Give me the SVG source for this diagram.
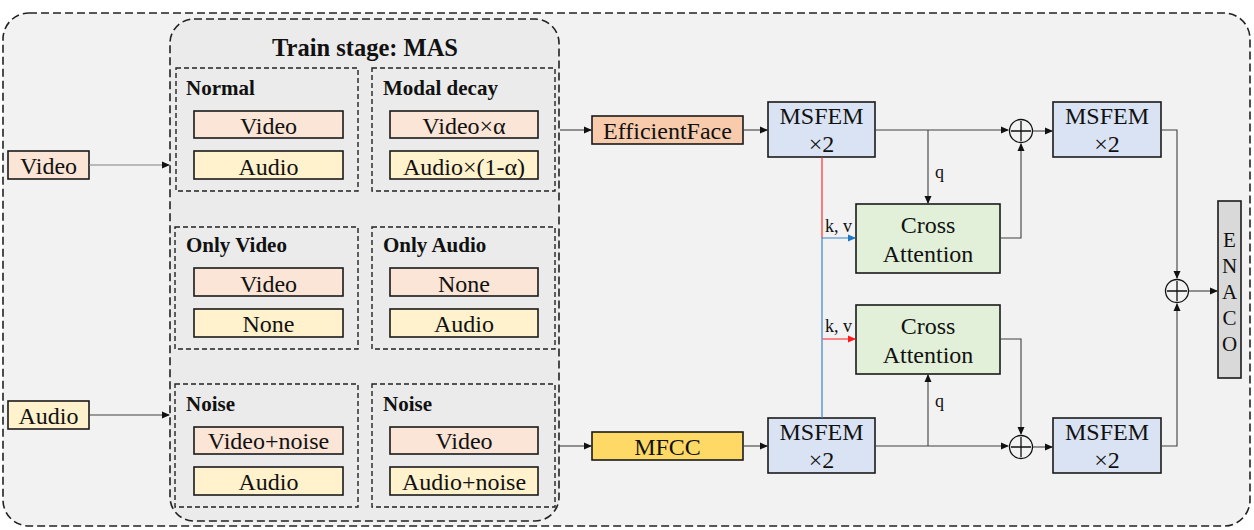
<svg xmlns="http://www.w3.org/2000/svg" width="1254" height="530" viewBox="0 0 1254 530">
<defs>
<marker id="ah" markerWidth="8" markerHeight="8" refX="7" refY="4" orient="auto" markerUnits="userSpaceOnUse"><path d="M0,0.5 L8,4 L0,7.5 Z" fill="#111"/></marker>
<marker id="ahb" markerWidth="8" markerHeight="8" refX="7" refY="4" orient="auto" markerUnits="userSpaceOnUse"><path d="M0,0.5 L8,4 L0,7.5 Z" fill="#1f77c8"/></marker>
<marker id="ahr" markerWidth="8" markerHeight="8" refX="7" refY="4" orient="auto" markerUnits="userSpaceOnUse"><path d="M0,0.5 L8,4 L0,7.5 Z" fill="#ff1a1a"/></marker>
</defs>
<style>
.t{font-family:"Liberation Serif","Times New Roman",serif;fill:#111}
.lbl{font-size:24px;text-anchor:middle}
.ttl{font-size:21px;font-weight:bold}
.sm{font-size:18px}
.box{stroke:#1a1a1a;stroke-width:1.6}
.vid{fill:#fbe5d6}
.aud{fill:#fff2cc}
.ms{fill:#dae3f3}
.ca{fill:#e2f0d9}
.sub{fill:none;stroke:#222;stroke-width:1.4;stroke-dasharray:5 3}
.ln{fill:none;stroke:#404040;stroke-width:1.1}
.plus{fill:none;stroke:#111;stroke-width:1.3}
</style>
<rect x="3" y="13" width="1247" height="513" rx="26" fill="#f2f2f2" stroke="#222" stroke-width="1.6" stroke-dasharray="8 4"/>
<g id="train-stage">
<rect x="170" y="19" width="389" height="502" rx="24" fill="#ebebeb" stroke="#222" stroke-width="1.6" stroke-dasharray="8 4"/>
<text class="t" x="365" y="56" font-size="24.5" font-weight="bold" text-anchor="middle">Train stage: MAS</text>
</g>
<g id="normal">
<rect class="sub" x="176" y="68" width="182" height="123"/>
<text class="t ttl" x="186" y="95">Normal</text>
<rect class="box vid" x="194" y="111" width="149" height="27"/><text class="t lbl" x="268.5" y="134">Video</text>
<rect class="box aud" x="194" y="151" width="149" height="28"/><text class="t lbl" x="268.5" y="175">Audio</text>
</g>
<g id="modal-decay">
<rect class="sub" x="372" y="68" width="183" height="123"/>
<text class="t ttl" x="383" y="95">Modal decay</text>
<rect class="box vid" x="390" y="111" width="148" height="27"/><text class="t lbl" x="464" y="134">Video×α</text>
<rect class="box aud" x="390" y="151" width="148" height="28"/><text class="t lbl" x="464" y="175">Audio×(1-α)</text>
</g>
<g id="only-video">
<rect class="sub" x="175" y="227" width="183" height="122"/>
<text class="t ttl" x="186" y="252">Only Video</text>
<rect class="box vid" x="194" y="268" width="149" height="28"/><text class="t lbl" x="268.5" y="292">Video</text>
<rect class="box aud" x="194" y="309" width="149" height="28"/><text class="t lbl" x="268.5" y="332">None</text>
</g>
<g id="only-audio">
<rect class="sub" x="372" y="227" width="183" height="122"/>
<text class="t ttl" x="383" y="252">Only Audio</text>
<rect class="box vid" x="390" y="268" width="148" height="28"/><text class="t lbl" x="464" y="292">None</text>
<rect class="box aud" x="390" y="309" width="148" height="28"/><text class="t lbl" x="464" y="332">Audio</text>
</g>
<g id="noise-1">
<rect class="sub" x="175" y="384" width="183" height="123"/>
<text class="t ttl" x="186" y="411">Noise</text>
<rect class="box vid" x="194" y="427" width="149" height="27"/><text class="t lbl" x="268.5" y="449">Video+noise</text>
<rect class="box aud" x="194" y="467" width="149" height="28"/><text class="t lbl" x="268.5" y="490">Audio</text>
</g>
<g id="noise-2">
<rect class="sub" x="372" y="384" width="183" height="123"/>
<text class="t ttl" x="383" y="411">Noise</text>
<rect class="box vid" x="390" y="427" width="148" height="27"/><text class="t lbl" x="464" y="449">Video</text>
<rect class="box aud" x="390" y="467" width="148" height="28"/><text class="t lbl" x="464" y="490">Audio+noise</text>
</g>
<g id="video-input"><rect class="box vid" x="8" y="151" width="81" height="28"/><text class="t lbl" x="48.5" y="174">Video</text></g>
<g id="audio-input"><rect class="box aud" x="8" y="401" width="81" height="28"/><text class="t lbl" x="48.5" y="424">Audio</text></g>
<g id="efficientface"><rect class="box" fill="#f8cbad" x="592" y="116" width="151" height="28"/><text class="t lbl" x="667.5" y="139">EfficientFace</text></g>
<g id="mfcc"><rect class="box" fill="#ffd966" x="592" y="432" width="151" height="28"/><text class="t lbl" x="667.5" y="455">MFCC</text></g>
<g id="msfem-v1"><rect class="box ms" x="768" y="102" width="107" height="55"/><text class="t lbl" x="821.5" y="124">MSFEM</text><text class="t lbl" x="821.5" y="152">×2</text></g>
<g id="msfem-a1"><rect class="box ms" x="768" y="418" width="107" height="55"/><text class="t lbl" x="821.5" y="440">MSFEM</text><text class="t lbl" x="821.5" y="468">×2</text></g>
<g id="ca-top"><rect class="box ca" x="856" y="204" width="144" height="69"/><text class="t lbl" x="928" y="233">Cross</text><text class="t lbl" x="928" y="262">Attention</text></g>
<g id="ca-bottom"><rect class="box ca" x="856" y="305" width="144" height="69"/><text class="t lbl" x="928" y="334">Cross</text><text class="t lbl" x="928" y="363">Attention</text></g>
<g id="msfem-v2"><rect class="box ms" x="1053" y="102" width="108" height="55"/><text class="t lbl" x="1107" y="124">MSFEM</text><text class="t lbl" x="1107" y="152">×2</text></g>
<g id="msfem-a2"><rect class="box ms" x="1053" y="418" width="108" height="55"/><text class="t lbl" x="1107" y="440">MSFEM</text><text class="t lbl" x="1107" y="468">×2</text></g>
<g id="enaco"><rect class="box" fill="#d9d9d9" x="1218" y="201" width="23" height="177"/>
<text class="t" font-size="21" text-anchor="middle"><tspan x="1229.5" y="247">E</tspan><tspan x="1229.5" y="273">N</tspan><tspan x="1229.5" y="299">A</tspan><tspan x="1229.5" y="325">C</tspan><tspan x="1229.5" y="351">O</tspan></text></g>
<g id="add-top"><circle class="plus" cx="1021" cy="131" r="11.5"/><path class="plus" d="M1021,121 V141 M1011,131 H1031"/></g>
<g id="add-bottom"><circle class="plus" cx="1021" cy="447" r="11.5"/><path class="plus" d="M1021,437 V457 M1011,447 H1031"/></g>
<g id="add-final"><circle class="plus" cx="1177" cy="291" r="11.5"/><path class="plus" d="M1177,281 V301 M1167,291 H1187"/></g>
<g id="connectors">
<path d="M89,165 H169" fill="none" stroke="#808080" stroke-width="1.1" marker-end="url(#ah)"/>
<path d="M89,415 H169" fill="none" stroke="#404040" stroke-width="1.1" marker-end="url(#ah)"/>
<path class="ln" d="M560,130 H591" marker-end="url(#ah)"/>
<path class="ln" d="M560,446 H591" stroke="#808080" marker-end="url(#ah)"/>
<path class="ln" d="M743,130 H767" marker-end="url(#ah)"/>
<path class="ln" d="M743,446 H767" stroke="#808080" marker-end="url(#ah)"/>
<path class="ln" d="M875,130 H1008" marker-end="url(#ah)"/>
<path class="ln" d="M875,446 H1008" stroke="#808080" marker-end="url(#ah)"/>
<path class="ln" d="M928,130 V203" marker-end="url(#ah)"/>
<path class="ln" d="M928,446 V375" stroke="#808080" marker-end="url(#ah)"/>
<text class="t sm" x="935" y="178">q</text>
<text class="t sm" x="935" y="407">q</text>
<path d="M822,157 V238" fill="none" stroke="#ff1a1a" stroke-width="1.1"/>
<path d="M822.5,339 H855" fill="none" stroke="#ff1a1a" stroke-width="1.1" marker-end="url(#ahr)"/>
<path d="M822,418 V238 H855" fill="none" stroke="#3a86c8" stroke-width="1.2" marker-end="url(#ahb)"/>
<text class="t sm" x="825" y="232">k, v</text>
<text class="t sm" x="825" y="332">k, v</text>
<path class="ln" d="M1000,238 H1021 V144" marker-end="url(#ah)"/>
<path class="ln" d="M1000,339 H1021 V434" marker-end="url(#ah)"/>
<path class="ln" d="M1033,131 H1052" marker-end="url(#ah)"/>
<path class="ln" d="M1033,447 H1052" marker-end="url(#ah)"/>
<path class="ln" d="M1161,130 H1177 V278" stroke="#808080" marker-end="url(#ah)"/>
<path class="ln" d="M1161,446 H1177 V304" stroke="#808080" marker-end="url(#ah)"/>
<path class="ln" d="M1189,291 H1217" marker-end="url(#ah)"/>
</g>
</svg>
